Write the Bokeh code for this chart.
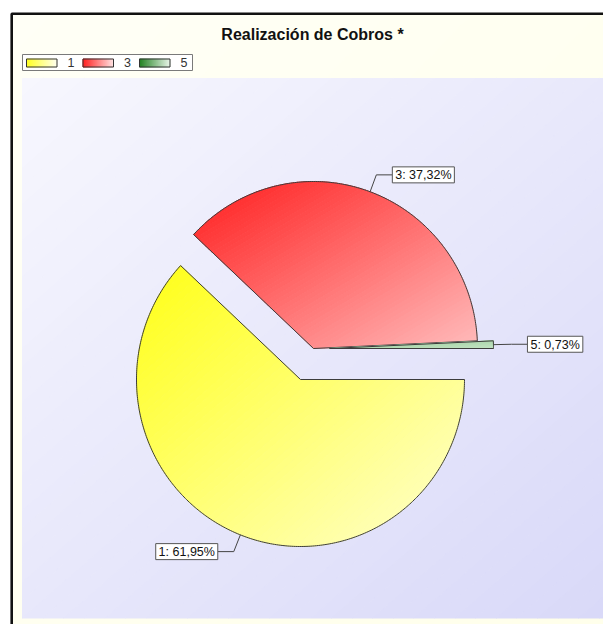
import numpy as np
from bokeh.plotting import figure
from bokeh.models import Range1d, ColumnDataSource
from bokeh.core.properties import value
from bokeh.embed import file_html
from bokeh.resources import INLINE

# ---------------- data ----------------
title_text = "Realización de Cobros *"
categories = ["1", "3", "5"]
percentages = [61.95, 37.32, 0.73]
label_texts = ["1: 61,95%", "3: 37,32%", "5: 0,73%"]

# ---------------- styles / layout (screen px) ----------------
W, H = 603, 624
OFF = 0
FONT = "Liberation Sans"
slice_dark = ["#FFFF14", "#FF1C1C", "#98CC98"]
slice_light = ["#FFFFD0", "#FFBCBC", "#C2E3C2"]
swatch_dark = ["#FFFF1E", "#FF1E1E", "#1E801E"]
swatch_light = ["#FFFFEC", "#FFE0E0", "#E6F3E6"]
explode = [(0, 0), (13, -31), (29, -31)]
pie_cx, pie_cy, pie_rx, pie_ry = 300, 379, 164, 167


def S(x, y):
    return (x - OFF, y - OFF)


def hex2rgb(h):
    h = h.lstrip("#")
    return np.array([int(h[i:i + 2], 16) for i in (0, 2, 4)], dtype=float)


def lerp(c0, c1, t):
    a, b = hex2rgb(c0), hex2rgb(c1)
    c = a + (b - a) * t
    return "#%02x%02x%02x" % tuple(int(round(v)) for v in c)


def clip_half(poly, f, keep_ge, thr):
    out = []
    n = len(poly)
    for i in range(n):
        P = poly[i]
        Q = poly[(i + 1) % n]
        fp = f(*P) - thr
        fq = f(*Q) - thr
        if not keep_ge:
            fp, fq = -fp, -fq
        pin, qin = fp >= 0, fq >= 0
        if pin:
            out.append(P)
        if pin != qin:
            s = fp / (fp - fq)
            out.append((P[0] + s * (Q[0] - P[0]), P[1] + s * (Q[1] - P[1])))
    return out


def gradient_bands(poly, c0, c1, n, mode="diag"):
    xs = [p[0] for p in poly]
    ys = [p[1] for p in poly]
    x0, x1, y0, y1 = min(xs), max(xs), min(ys), max(ys)
    w = (x1 - x0) or 1.0
    h = (y1 - y0) or 1.0
    if mode == "diag":
        f = lambda x, y: ((x - x0) / w + (y - y0) / h) / 2.0
    else:
        f = lambda x, y: (x - x0) / w
    bx, by, bc = [], [], []
    for k in range(n):
        a, b = k / n, (k + 1) / n
        pp = clip_half(poly, f, True, a)
        if len(pp) < 3:
            continue
        pp = clip_half(pp, f, False, b)
        if len(pp) < 3:
            continue
        bx.append([p[0] for p in pp])
        by.append([p[1] for p in pp])
        bc.append(lerp(c0, c1, (a + b) / 2.0))
    return bx, by, bc


def draw_bands(p, poly, c0, c1, n, mode="diag"):
    bx, by, bc = gradient_bands(poly, c0, c1, n, mode)
    src = ColumnDataSource(dict(xs=bx, ys=by, c=bc))
    p.patches("xs", "ys", source=src, fill_color="c", line_color="c", line_width=1)


def rect_poly(x0, y0, x1, y1):
    return [S(x0, y0), S(x1, y0), S(x1, y1), S(x0, y1)]


def text_width(s, size):
    wd = {":": 0.278, " ": 0.278, ",": 0.278, "%": 0.889, ".": 0.278}
    return sum(wd.get(ch, 0.556) for ch in s) * size


p = figure(width=W, height=H, x_range=Range1d(0, W), y_range=Range1d(H, 0),
           output_backend="svg", toolbar_location=None, min_border=0)
p.axis.visible = False
p.grid.visible = False
p.outline_line_color = None
p.background_fill_color = "white"
p.border_fill_color = "white"

# outer cream panel
draw_bands(p, rect_poly(11, 13, 640, 660), "#FFFFF6", "#FFFFEA", 30)
fx, fy = zip(*[S(11.2, 700), S(11.2, 13.2), S(700, 13.2)])
p.line(list(fx), list(fy), line_color="#111111", line_width=2.6)

# plot area gradient
draw_bands(p, rect_poly(22, 78, 640, 617.5), "#F7F7FE", "#D8D8F8", 60)

# title
tx, ty = S(312, 33.5)
p.text(x=[tx], y=[ty], text=[title_text], text_align="center", text_baseline="middle",
       text_font=value(FONT), text_font_size="16px", text_font_style="bold", text_color="#111111")

# legend
lx0, ly0, lx1, ly1 = 22, 54, 192, 70
bx0, by0 = S(lx0, ly0)
bx1, by1 = S(lx1, ly1)
p.quad(left=[bx0], right=[bx1], top=[by0], bottom=[by1], fill_color="white",
       line_color="#7a7a7a", line_width=1)
for i, cat in enumerate(categories):
    sx0 = 26 + i * 56.5
    sw = rect_poly(sx0, 58.5, sx0 + 30.5, 66.5)
    draw_bands(p, sw, swatch_dark[i], swatch_light[i], 30, mode="horiz")
    qx0, qy0 = S(sx0, 58.5)
    qx1, qy1 = S(sx0 + 30.5, 66.5)
    p.quad(left=[qx0], right=[qx1], top=[qy0], bottom=[qy1], fill_color=None,
           line_color="#333333", line_width=1)
    ttx, tty = S(sx0 + 41, 62)
    p.text(x=[ttx], y=[tty], text=[cat], text_align="left", text_baseline="middle",
           text_font=value(FONT), text_font_size="12.5px", text_color="#333333")

# pie
start = 0.0
slices = []
for i, pct in enumerate(percentages):
    span = pct * 3.6
    a_end = start
    a_start = start - span
    cx = pie_cx + explode[i][0]
    cy = pie_cy + explode[i][1]
    m = max(8, int(span * 1.5))
    th = np.radians(np.linspace(a_end, a_start, m))
    poly = [S(cx, cy)] + [S(cx + pie_rx * np.cos(t), cy - pie_ry * np.sin(t)) for t in th]
    mid = np.radians((a_start + a_end) / 2.0)
    slices.append((poly, cx, cy, mid))
    start = a_start

for i in [0, 1, 2]:
    poly, cx, cy, mid = slices[i]
    draw_bands(p, poly, slice_dark[i], slice_light[i], 70)
    xs, ys = zip(*poly)
    p.patch(list(xs) + [xs[0]], list(ys) + [ys[0]], fill_color=None,
            line_color="#3c3c3c", line_width=1)

# labels with leader lines
for i, txt in enumerate(label_texts):
    poly, cx, cy, mid = slices[i]
    ax = cx + pie_rx * np.cos(mid)
    ay = cy - pie_ry * np.sin(mid)
    ex = ax + 18 * np.cos(mid)
    ey = ay - 18 * np.sin(mid)
    right_side = np.cos(mid) >= 0
    hx = ex + 16 if right_side else ex - 16
    pts = [S(ax, ay), S(ex, ey), S(hx, ey)]
    p.line([q[0] for q in pts], [q[1] for q in pts], line_color="#444444", line_width=1)
    bw = text_width(txt, 12) + 8
    if right_side:
        qx0, qx1 = hx, hx + bw
    else:
        qx0, qx1 = hx - bw, hx
    L, T = S(qx0, ey - 8)
    R, B = S(qx1, ey + 8)
    p.quad(left=[L], right=[R], top=[T], bottom=[B], fill_color="white",
           line_color="#555555", line_width=1)
    mx, my = S((qx0 + qx1) / 2.0, ey + 0.5)
    p.text(x=[mx], y=[my], text=[txt], text_align="center", text_baseline="middle",
           text_font=value(FONT), text_font_size="12.5px", text_color="#111111")

open("out.html", "w").write(file_html(p, INLINE))
